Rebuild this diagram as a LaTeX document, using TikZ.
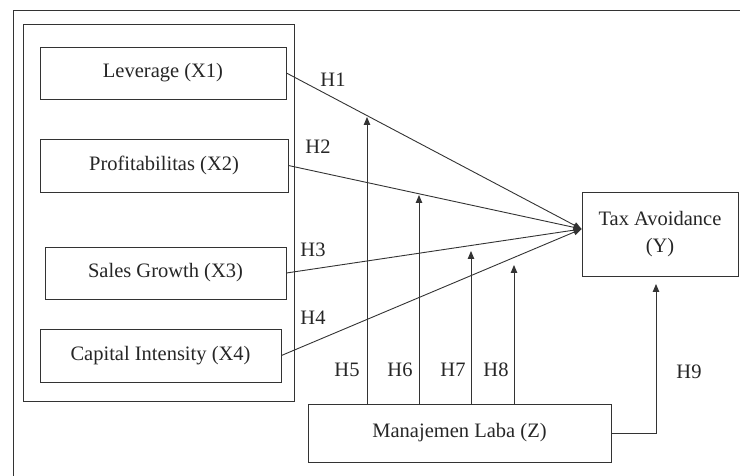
\documentclass[tikz,border=0pt]{standalone}
\usepackage{fontspec}
\setmainfont{Liberation Serif}
\usetikzlibrary{arrows.meta}
\begin{document}
\begin{tikzpicture}[x=1pt,y=-1pt,
  every node/.style={font=\fontsize{20.5}{24}\selectfont, text=black!85},
  box/.style={draw=black!80, line width=0.9pt, inner sep=0pt, align=center},
  ln/.style={draw=black!80, line width=0.9pt},
  arr/.style={ln, -{Triangle[length=8pt,width=6.5pt]}},
  hlab/.style={inner sep=0pt}]
\useasboundingbox (0,0) rectangle (740,476);
% outer frame (cropped)
\coordinate (fa) at (13,476);
\coordinate (fb) at (13,10);
\coordinate (fc) at (740,10);
\draw[ln] (fa) -- (fb) -- (fc);
% group box
\node[box, minimum width=271pt, minimum height=377pt] (grp) at (158.5,212.5) {};
% variable boxes
\node[box, minimum width=246pt, minimum height=52pt] (lev) at (163,73) {Leverage (X1)};
\node[box, minimum width=248pt, minimum height=53pt] (pro) at (164,165.5) {Profitabilitas (X2)};
\node[box, minimum width=241pt, minimum height=52pt] (sal) at (165.5,273) {Sales Growth (X3)};
\node[box, minimum width=241pt, minimum height=53pt] (cap) at (160.5,355.5) {Capital Intensity (X4)};
\node[box, minimum width=156pt, minimum height=84pt] (tax) at (660,234) {Tax Avoidance\\[3pt](Y)};
\node[box, minimum width=303pt, minimum height=58pt] (man) at (459.5,433) {Manajemen Laba (Z)};
% convergence point
\coordinate (conv) at ([yshift=5pt]tax.west);
\draw[arr] (lev.east) -- (conv);
\draw[arr] (pro.east) -- (conv);
\draw[arr] (sal.east) -- (conv);
\draw[arr] (cap.east) -- (conv);
% moderation arrows
\coordinate (t5) at (367,117);
\coordinate (t6) at (419,195);
\coordinate (t7) at (471,251);
\coordinate (t8) at (514,265);
\coordinate (t9) at (656,284);
\draw[arr] (man.north -| t5) -- (t5);
\draw[arr] (man.north -| t6) -- (t6);
\draw[arr] (man.north -| t7) -- (t7);
\draw[arr] (man.north -| t8) -- (t8);
\draw[arr] (man.east) -| (t9);
% labels
\node[hlab] (h1) at (333,80) {H1};
\node[hlab] (h2) at (318,147) {H2};
\node[hlab] (h3) at (313,250) {H3};
\node[hlab] (h4) at (313,318) {H4};
\node[hlab] (h5) at (347,370) {H5};
\node[hlab] (h6) at (400,370) {H6};
\node[hlab] (h7) at (453,370) {H7};
\node[hlab] (h8) at (496,370) {H8};
\node[hlab] (h9) at (689,372) {H9};
\end{tikzpicture}
\end{document}
